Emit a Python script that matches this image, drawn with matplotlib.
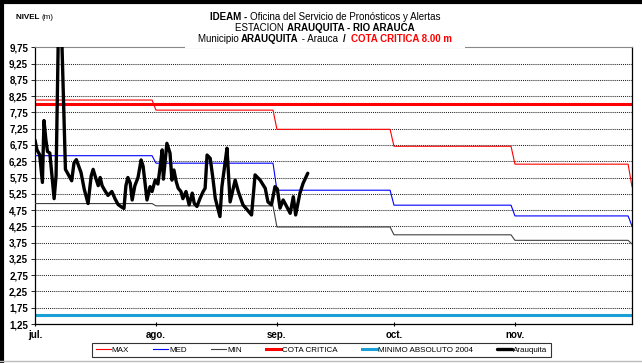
import matplotlib
matplotlib.use("Agg")
import matplotlib.pyplot as plt
from matplotlib.lines import Line2D
from matplotlib.patches import Rectangle

plt.rcParams['font.family'] = ['Liberation Sans', 'DejaVu Sans']

# days counted from 1 July
month_days = [0, 31, 62, 92, 123, 153]
month_labels = ['jul.', 'ago.', 'sep.', 'oct.', 'nov.']

# monthly reference levels (m); last value is 1 December
max_level = [8.13, 7.82, 7.23, 6.71, 6.16, 5.47]
med_level = [6.42, 6.19, 5.36, 4.90, 4.57, 4.26]
min_level = [4.95, 4.88, 4.23, 3.99, 3.82, 3.71]
cota_critica = 8.00
minimo_2004 = 1.52

# observed level at Arauquita
obs_day = [0.0, 0.5, 1.2, 1.9, 2.3, 2.8, 3.2, 3.8, 4.9, 5.4, 6.0, 6.8, 7.8, 8.5,
           9.4, 10.0, 10.6, 11.2, 11.8, 12.6, 13.6, 14.4, 14.9, 15.4, 16.2, 16.7,
           17.2, 17.9, 18.7, 19.7, 20.5, 21.3, 22.1, 22.8, 23.3, 23.8, 24.4, 24.9,
           25.6, 26.4, 27.2, 27.7, 28.7, 29.5, 30.0, 30.8, 31.5, 32.1, 32.6, 32.9,
           33.8, 34.6, 35.1, 35.6, 36.2, 36.7, 37.4, 37.9, 38.7, 39.5, 40.3, 40.8,
           41.5, 42.3, 43.1, 43.6, 44.1, 44.9, 45.6, 46.2, 47.4, 47.9, 48.7, 49.2,
           50.0, 51.3, 52.1, 53.3, 55.5, 56.4, 57.7, 59.0, 59.7, 60.6, 61.5, 62.1,
           62.8, 63.6, 64.5, 65.4, 66.2, 66.8, 67.9, 68.7, 69.9]
obs_level = [6.90, 6.60, 6.45, 5.60, 7.50, 6.90, 6.55, 6.50, 5.10, 5.80, 10.3, 10.3,
             6.00, 5.85, 5.65, 6.20, 6.30, 6.10, 5.90, 5.40, 4.95, 5.80, 6.00, 5.80,
             5.50, 5.75, 5.50, 5.35, 5.20, 5.32, 5.10, 4.92, 4.85, 4.80, 5.50, 5.75,
             5.58, 5.06, 5.50, 5.75, 6.29, 6.10, 5.06, 5.47, 5.32, 5.67, 5.55, 6.10,
             6.60, 5.70, 6.80, 6.50, 5.67, 5.98, 5.62, 5.42, 5.32, 5.10, 5.32, 4.91,
             5.27, 4.96, 4.86, 5.11, 5.32, 5.42, 6.44, 6.34, 5.72, 5.11, 4.55, 5.47,
             6.19, 6.65, 5.00, 5.67, 5.32, 4.91, 4.60, 5.83, 5.67, 5.42, 5.00, 4.91,
             5.47, 5.40, 4.81, 5.06, 4.86, 4.65, 5.16, 4.60, 5.27, 5.57, 5.88]

yticks = [1.25 + 0.5 * i for i in range(18)]


def monthly_steps(levels):
    """Flat line per month, dropping over the last day of each month."""
    xs, ys = [month_days[0]], [levels[0]]
    for i in range(1, len(month_days)):
        xs += [month_days[i] - 1, month_days[i]]
        ys += [levels[i - 1], levels[i]]
    return xs, ys


fig = plt.figure(figsize=(6.42, 3.63), dpi=100)
W, H = 642, 363
ax = fig.add_axes([35 / W, 1 - 324 / H, 597 / W, 276.7 / H])

for y in yticks[1:-1]:
    ax.axhline(y, color='#222222', lw=0.75, ls=(0, (1, 1)), zorder=1)

x, y = monthly_steps(max_level)
h_max, = ax.plot(x, y, color='#ff0000', lw=0.8, zorder=3)
x, y = monthly_steps(med_level)
h_med, = ax.plot(x, y, color='#0000ff', lw=0.8, zorder=3)
x, y = monthly_steps(min_level)
h_min, = ax.plot(x, y, color='#404040', lw=0.8, zorder=3)
h_cota = ax.axhline(cota_critica, color='#ff0000', lw=2.2, zorder=2)
h_mina = ax.axhline(minimo_2004, color='#1a9fd6', lw=2.2, zorder=2)
h_obs, = ax.plot(obs_day, obs_level, color='black', lw=2.4, zorder=4,
                 solid_joinstyle='round', solid_capstyle='round')

ax.set_xlim(0, 153)
ax.set_ylim(1.25, 9.75)
ax.set_yticks(yticks)
ax.set_yticklabels([f'{v:.2f}'.replace('.', ',') for v in yticks],
                   fontsize=7, fontweight='bold')
ax.set_xticks(month_days[:-1])
ax.set_xticklabels(month_labels, fontsize=7, fontweight='bold')
ax.tick_params(axis='y', length=3, width=0.6, pad=2)
ax.tick_params(axis='x', length=3, width=0.8, direction='inout', pad=3)
for side in ['left', 'right', 'bottom']:
    ax.spines[side].set_linewidth(0.9)
ax.spines['top'].set_color('#888888')
ax.spines['top'].set_linewidth(0.8)

leg = fig.legend([h_max, h_med, h_min, h_cota, h_mina, h_obs],
                 ['MAX', 'MED', 'MIN', 'COTA CRITICA', 'MINIMO ABSOLUTO 2004', 'Arauquita'],
                 ncol=6, loc='center', bbox_to_anchor=(321.5 / W, 1 - 350 / H),
                 fontsize=5.8, frameon=True, fancybox=False, handlelength=1.9,
                 handletextpad=0.1, columnspacing=3.0, borderpad=0.4)
leg.get_frame().set_edgecolor('black')
leg.get_frame().set_linewidth(0.8)

# title block sits on a white panel over the top of the plot frame
fig.patches.append(Rectangle((185 / W, 1 - 48 / H), 280 / W, 40 / H,
                             transform=fig.transFigure, facecolor='white',
                             edgecolor='none', zorder=2))

renderer = fig.canvas.get_renderer()


def rich_line(y_px, parts, size, cx_px=325):
    texts = []
    for s, weight, color in parts:
        t = fig.text(0, 1 - y_px / H, s, fontsize=size, fontweight=weight,
                     color=color, ha='left', va='baseline', zorder=3)
        texts.append(t)
    widths = [t.get_window_extent(renderer).width for t in texts]
    x0 = cx_px - sum(widths) / 2
    for t, w in zip(texts, widths):
        t.set_x(x0 / W)
        x0 += w


rich_line(20, [('IDEAM - ', 'bold', 'black'),
               ('Oficina del Servicio de Pronósticos y Alertas', 'normal', 'black')], 7)
rich_line(31, [('ESTACION ', 'normal', 'black'),
               ('ARAUQUITA - RIO ARAUCA', 'bold', 'black')], 7)
rich_line(42, [('Municipio ', 'normal', 'black'), ('ARAUQUITA', 'bold', 'black'),
               (' - Arauca  ', 'normal', 'black'), ('/  ', 'bold', 'black'),
               ('COTA CRITICA 8.00 m', 'bold', '#ff0000')], 7)

t1 = fig.text(16 / W, 1 - 19 / H, 'NIVEL ', fontsize=5.8, fontweight='bold')
w1 = t1.get_window_extent(renderer).width
fig.text((16 + w1) / W, 1 - 19 / H, '(m)', fontsize=5.8)

# outer frame of the chart area
fig.add_artist(Line2D([2 / W, 2 / W], [0, 1], color='black', lw=3,
                      transform=fig.transFigure))
fig.add_artist(Line2D([0, 1], [1 - 2 / H, 1 - 2 / H], color='black', lw=3,
                      transform=fig.transFigure))
fig.add_artist(Line2D([0, 1], [1 - 361 / H, 1 - 361 / H], color='#bbbbbb', lw=1,
                      transform=fig.transFigure))

fig.savefig('out.png', dpi=100)
